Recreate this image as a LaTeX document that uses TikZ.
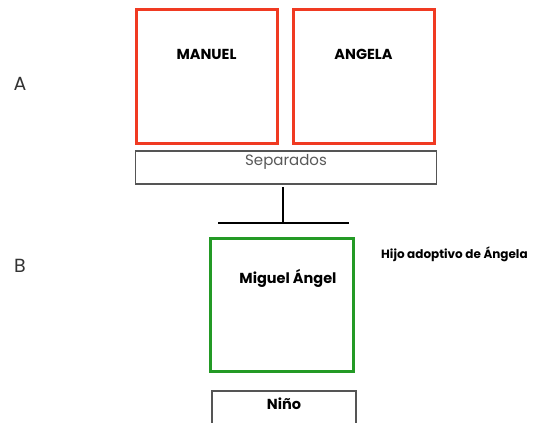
\documentclass[tikz,border=0pt]{standalone}
\usepackage{fontspec}
\setmainfont{Poppins}
\usepackage{xcolor}
\usepackage{tikz}
\usetikzlibrary{positioning}
\definecolor{parent}{HTML}{F03A22}
\definecolor{child}{HTML}{239A25}
\definecolor{frame}{HTML}{555555}
\tikzset{
  person/.style={rectangle, draw=parent, line width=3pt, minimum width=141pt, minimum height=134pt, inner sep=0pt},
  adopted/.style={rectangle, draw=child, line width=3pt, minimum width=143pt, minimum height=133pt, inner sep=0pt},
  tagbox/.style={rectangle, draw=frame, line width=1.1pt, inner sep=0pt},
  who/.style={font=\bfseries\fontsize{14.5}{16}\selectfont, inner sep=0pt},
  gen/.style={font=\fontsize{19}{22}\selectfont, text=black!80, inner sep=0pt},
  remark/.style={font=\bfseries\fontsize{12}{14}\selectfont, inner sep=0pt},
  link/.style={line width=2.2pt, black},
}
\begin{document}
\begin{tikzpicture}[x=1pt, y=-1pt]
\useasboundingbox[fill=white] (0,0) rectangle (536,423);
% generation labels
\node[gen] (genA) at (20,84) {A};
\node[gen] (genB) at (20,266) {B};

% parents
\node[person] (manuel) at (206.5,76) {};
\node[person] (angela) at (363.5,76) {};
\node[who, below=42pt of manuel.north] (manueltxt) {MANUEL};
\node[who, below=42pt of angela.north] (angelatxt) {ANGELA};
\node[tagbox, minimum width=301pt, minimum height=33pt] (sep) at (286,167.5) {};
\node[font=\fontsize{15}{17}\selectfont, text=black!65, inner sep=0pt, below=4pt of sep.north] (septxt) {Separados};

% child
\coordinate (barL) at (218,223);
\coordinate (barR) at (349,223);
\coordinate (barM) at (283,223);
\coordinate (stem) at (283,187);
\draw[link] (stem) -- (barM);
\draw[link] (barL) -- (barR);
\node[adopted] (miguel) at (281.5,304.5) {};
\node[who, below=33pt of miguel.north, xshift=6.5pt] (migueltxt) {Miguel Ángel};
\node[remark, anchor=west] (hijo) at (381,254) {Hijo adoptivo de Ángela};
\node[tagbox, minimum width=144pt, minimum height=44pt] (nino) at (284,413) {};
\node[who, below=7pt of nino.north] (ninotxt) {Niño};
\end{tikzpicture}
\end{document}
